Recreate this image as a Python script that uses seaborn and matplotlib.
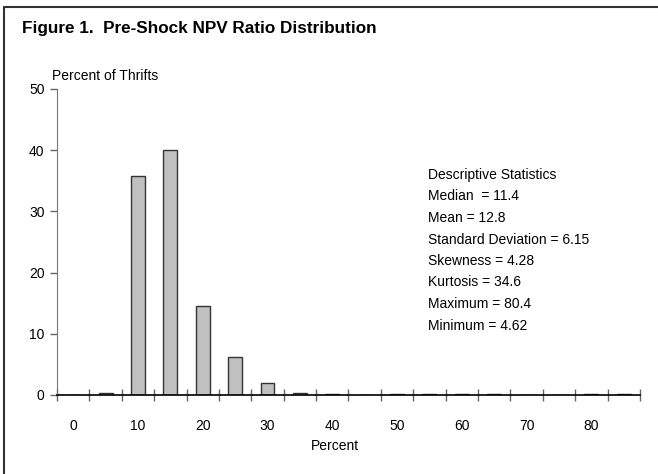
import pandas as pd
import matplotlib
import matplotlib.pyplot as plt
import seaborn as sns
from matplotlib.lines import Line2D

matplotlib.use('Agg')

# data: NPV ratio bins (percent) and share of thrifts
bins = [0, 5, 10, 15, 20, 25, 30, 35, 40, 45, 50, 55, 60, 65, 70, 75, 80, 85]
pct_thrifts = [0, 0.3, 35.7, 40.1, 14.6, 6.2, 1.9, 0.3, 0.2, 0, 0.2, 0.2, 0.2, 0.2, 0, 0, 0.2, 0.2]
tick_labels = ["0", "10", "20", "30", "40", "50", "60", "70", "80"]
stats_lines = ["Descriptive Statistics", "Median  = 11.4", "Mean = 12.8",
               "Standard Deviation = 6.15", "Skewness = 4.28", "Kurtosis = 34.6",
               "Maximum = 80.4", "Minimum = 4.62"]

sns.set_style("white")
plt.rcParams['font.family'] = ['Liberation Sans', 'DejaVu Sans']
plt.rcParams['text.color'] = 'black'
plt.rcParams['axes.labelcolor'] = 'black'
plt.rcParams['xtick.color'] = 'black'
plt.rcParams['ytick.color'] = 'black'

df = pd.DataFrame({"bin": [str(b) for b in bins], "pct": pct_thrifts})

fig = plt.figure(figsize=(6.58, 4.74), dpi=100)
ax = fig.add_axes([0.0866, 0.1667, 0.886, 0.6456])

sns.barplot(data=df, x="bin", y="pct", order=df["bin"], color="#c0c0c0",
            saturation=1, width=0.43, edgecolor="#333333", linewidth=1, ax=ax)

ax.set_xlim(-0.5, len(bins) - 0.5)
ax.set_ylim(0, 50)
ax.set_yticks(range(0, 51, 10))
ax.set_xticks(range(0, len(bins), 2))
ax.set_xticklabels(tick_labels)
ax.set_xticks([i - 0.5 for i in range(len(bins) + 1)], minor=True)
ax.tick_params(axis="x", which="major", length=0, pad=17, labelsize=10)
ax.tick_params(axis="x", which="minor", bottom=True, length=8, width=1,
               color="#666666", direction="inout")
ax.tick_params(axis="y", length=5, width=1, color="#666666", direction="out",
               left=True, pad=4, labelsize=10)

for side in ["top", "right"]:
    ax.spines[side].set_visible(False)
ax.spines["left"].set_color("#777777")
ax.spines["bottom"].set_color("black")
ax.spines["bottom"].set_linewidth(1.2)

ax.set_xlabel("Percent", fontsize=10)
ax.xaxis.set_label_coords(0.477, -0.145)
ax.set_ylabel("")
fig.text(52 / 658, 1 - 76 / 474, "Percent of Thrifts", fontsize=10, va="center")

# stats block
for i, line in enumerate(stats_lines):
    fig.text(428 / 658, 1 - (175 + i * 21.5) / 474, line, fontsize=10, va="center")

fig.text(22 / 658, 1 - 29 / 474, "Figure 1.  Pre-Shock NPV Ratio Distribution",
         fontsize=12.3, fontweight="bold", va="center")

# frame: left and top rules
fig.add_artist(Line2D([4 / 658, 4 / 658], [0, 1 - 7 / 474], color="#333333", lw=1.5))
fig.add_artist(Line2D([4 / 658, 1], [1 - 7 / 474, 1 - 7 / 474], color="#333333", lw=1.5))

fig.savefig("out.png", dpi=100)
